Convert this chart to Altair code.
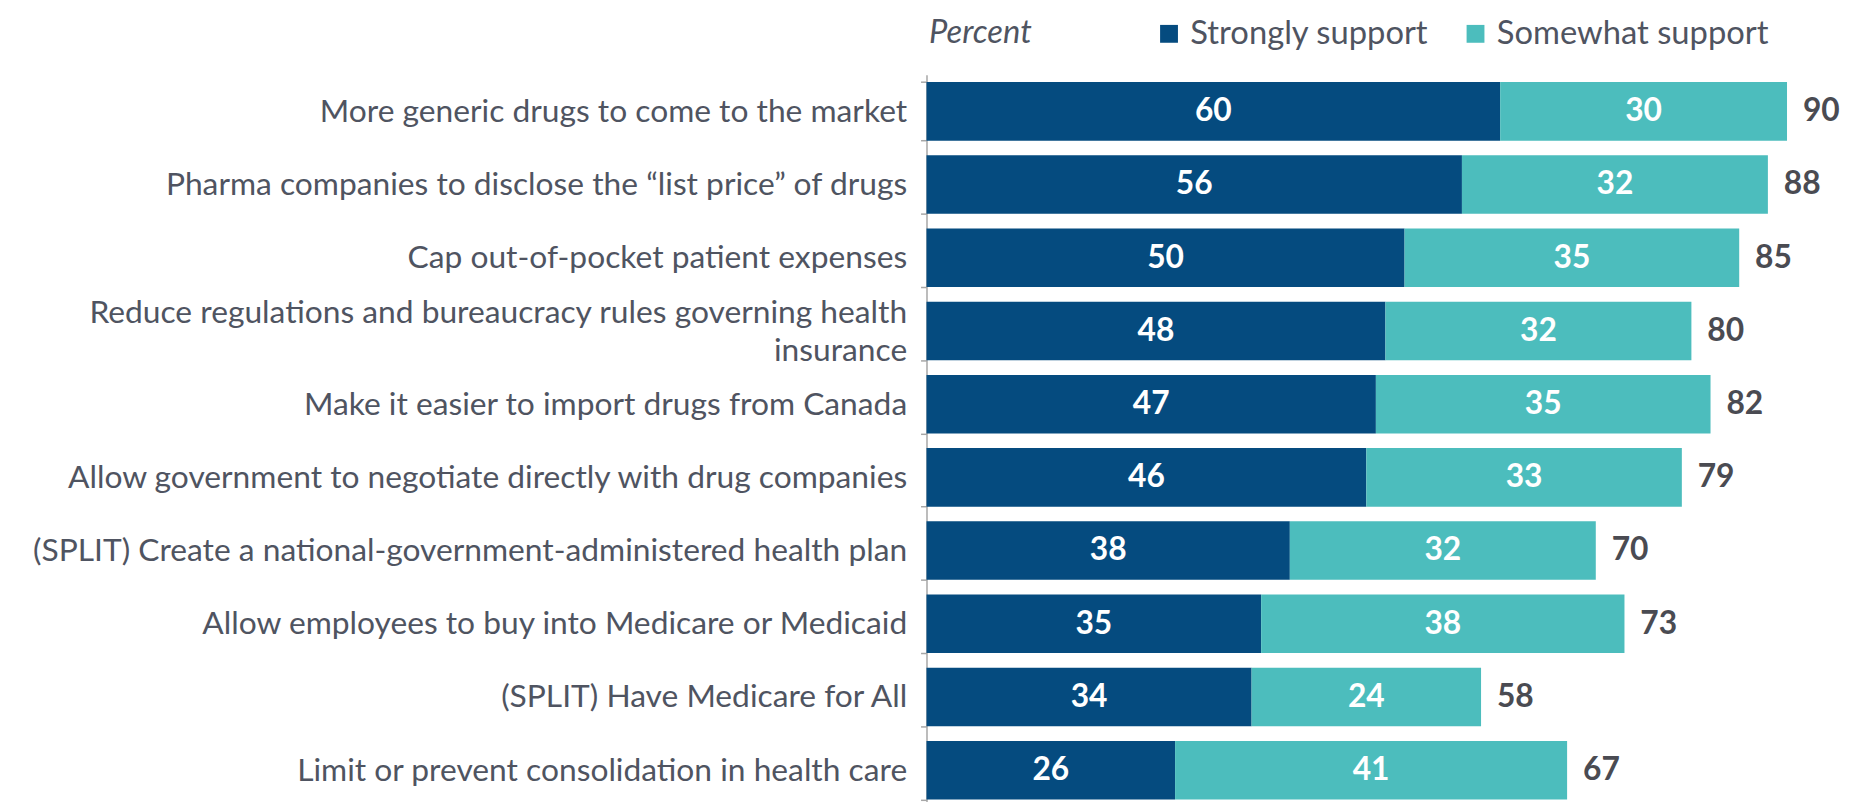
import altair as alt
import pandas as pd

categories = [
    "More generic drugs to come to the market",
    "Pharma companies to disclose the \u201clist price\u201d of drugs",
    "Cap out-of-pocket patient expenses",
    "Reduce regulations and bureaucracy rules governing health|insurance",
    "Make it easier to import drugs from Canada",
    "Allow government to negotiate directly with drug companies",
    "(SPLIT) Create a national-government-administered health plan",
    "Allow employees to buy into Medicare or Medicaid",
    "(SPLIT) Have Medicare for All ",
    "Limit or prevent consolidation in health care",
]
strongly = [60, 56, 50, 48, 47, 46, 38, 35, 34, 26]
somewhat = [30, 32, 35, 32, 35, 33, 32, 38, 24, 41]
totals = [90, 88, 85, 80, 82, 79, 70, 73, 58, 67]
series = ["Strongly support", "Somewhat support"]
colors = ["#054B7F", "#4CBDBD"]

rows = []
for c, s, w in zip(categories, strongly, somewhat):
    rows.append({"cat": c, "series": series[0], "order": 0, "value": s})
    rows.append({"cat": c, "series": series[1], "order": 1, "value": w})
long_df = pd.DataFrame(rows)
tot_df = pd.DataFrame({"cat": categories, "total": totals})

FONT = "Lato"
GRAY = "#4F5461"

y_enc = alt.Y(
    "cat:N",
    sort=categories,
    title=None,
    scale=alt.Scale(paddingInner=0.2, paddingOuter=0.1),
    axis=alt.Axis(
        labelExpr="split(datum.label, '|')",
        labelFontSize=32,
        labelFont=FONT,
        labelColor=GRAY,
        labelLineHeight=39,
        labelPadding=14,
        labelLimit=1000,
        labelOffset={"condition": {"test": "indexof(datum.label, '|') >= 0", "value": -19}, "value": 0},
        tickBand="extent",
        tickSize=6,
        tickColor="#A6A6A6",
        tickWidth=1.5,
        domainColor="#A6A6A6",
        domainWidth=1.5,
        minExtent=921,
        maxExtent=921,
    ),
)

x_scale = alt.Scale(domain=[0, 91.5], nice=False)

base = alt.Chart(long_df).encode(y=y_enc)

bars = base.mark_bar().encode(
    x=alt.X(
        "value:Q",
        stack="zero",
        scale=x_scale,
        axis=alt.Axis(
            orient="top",
            labels=False,
            ticks=False,
            domain=False,
            grid=False,
            title="Percent",
            titleFont=FONT,
            titleFontSize=33,
            titleFontStyle="italic",
            titleFontWeight="normal",
            titleColor=GRAY,
            titleAnchor="start",
            titleAlign="left",
            titleBaseline="middle",
            titleX=2,
            titleY=-43,
        ),
    ),
    color=alt.Color(
        "series:N",
        scale=alt.Scale(domain=series, range=colors),
        legend=alt.Legend(
            title=None,
            orient="none",
            legendX=228,
            legendY=-58,
            direction="horizontal",
            symbolType="square",
            symbolSize=324,
            symbolStrokeWidth=0,
            labelFontSize=33,
            labelFont=FONT,
            labelColor=GRAY,
            labelOffset=5,
            labelLimit=0,
            columnPadding=30,
        ),
    ),
    order=alt.Order("order:Q"),
)

seg_text = (
    alt.Chart(long_df)
    .transform_stack(stack="value", groupby=["cat"], as_=["x0", "x1"], sort=[alt.SortField("order")])
    .transform_calculate(mid="(datum.x0 + datum.x1) / 2")
    .mark_text(color="white", fontSize=32, fontWeight="bold", font=FONT)
    .encode(
        y=alt.Y("cat:N", sort=categories),
        x=alt.X("mid:Q", scale=x_scale),
        text=alt.Text("value:Q"),
    )
)

tot_text = (
    alt.Chart(tot_df)
    .mark_text(align="left", dx=16, color="#4A4B52", fontSize=32, fontWeight="bold", font=FONT)
    .encode(
        y=alt.Y("cat:N", sort=categories),
        x=alt.X("total:Q", scale=x_scale),
        text=alt.Text("total:Q"),
    )
)

chart = (
    alt.layer(bars, seg_text, tot_text)
    .properties(width=882, height=738)
    .configure_view(stroke=None)
)

chart.save("out.html", embed_options={"renderer": "svg", "actions": False})
